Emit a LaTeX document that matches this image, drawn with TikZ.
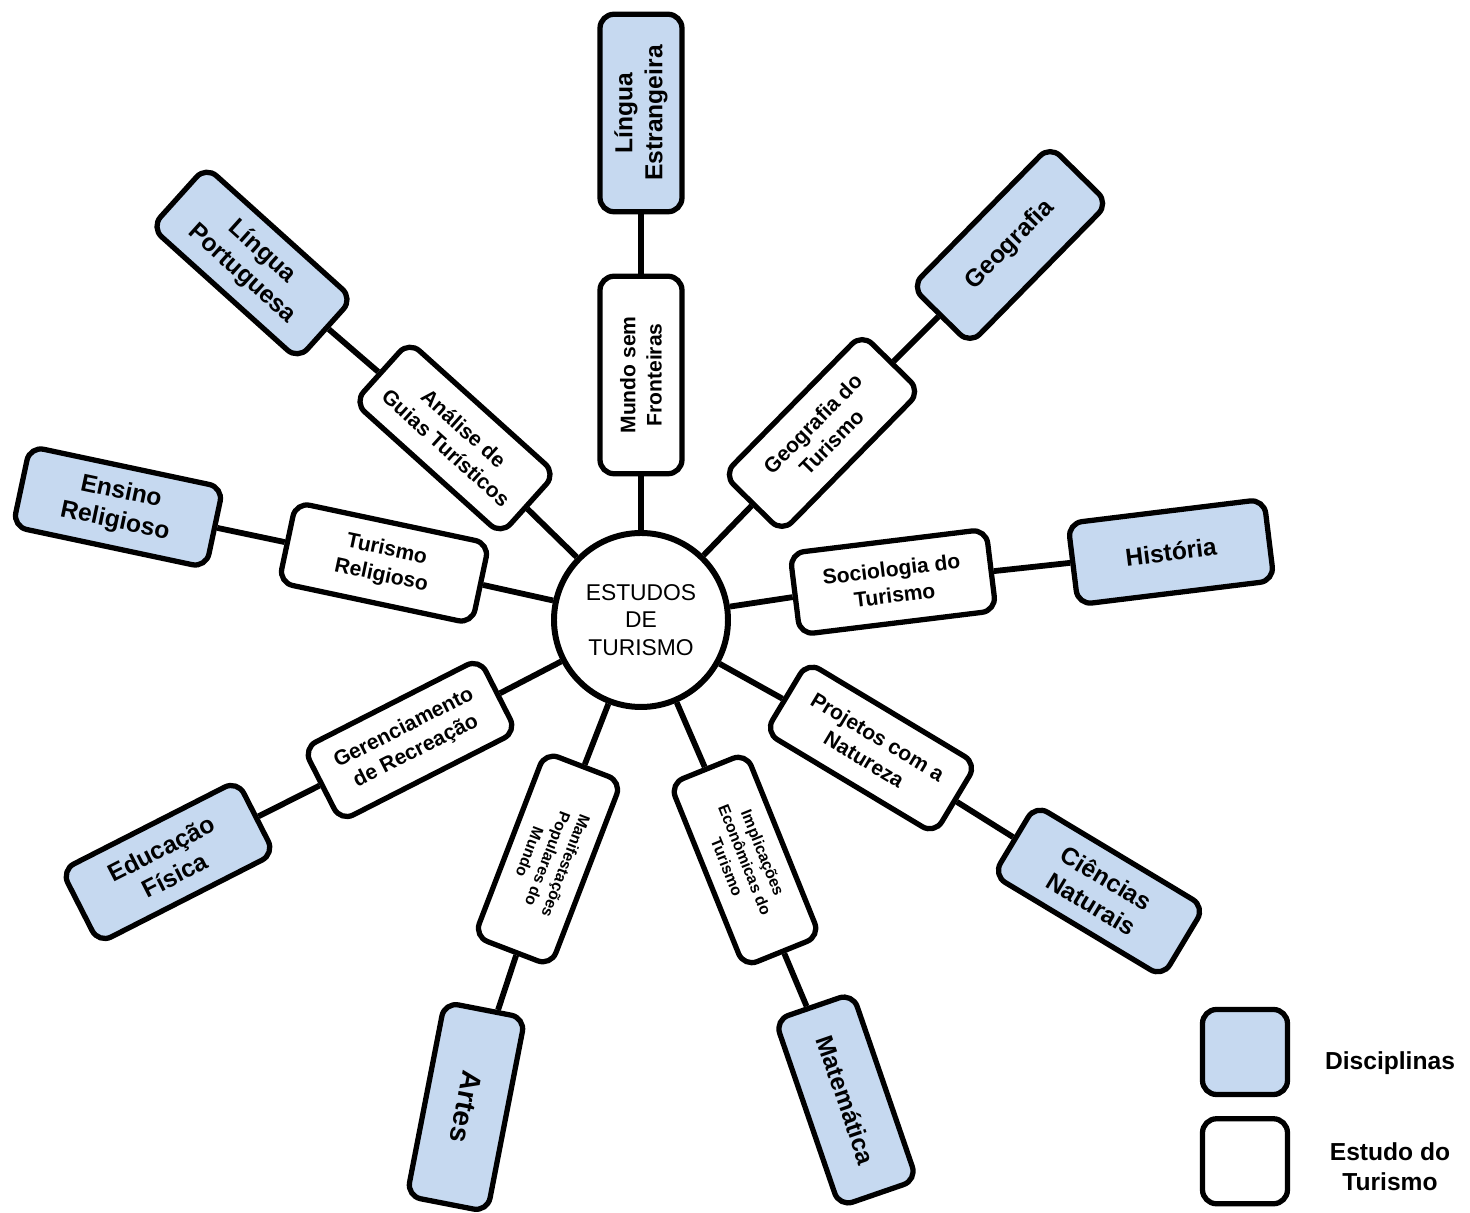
\documentclass[tikz,border=0pt]{standalone}
\usepackage{fontspec}
\setmainfont{Liberation Sans}
\usetikzlibrary{positioning}
\definecolor{discblue}{RGB}{198,217,240}

\tikzset{
  estudo/.style={draw, line width=3pt, rounded corners=8pt, fill=white,
    minimum width=3.95cm, minimum height=1.64cm, inner sep=2pt, align=center,
    font=\bfseries\fontsize{12}{15}\selectfont},
  disciplina/.style={estudo, fill=discblue, font=\bfseries\fontsize{14}{17}\selectfont},
  pequeno/.style={font=\bfseries\fontsize{9}{11}\selectfont},
  ligacao/.style={line width=3.3pt}
}

\begin{document}
\begin{tikzpicture}
    \useasboundingbox (-12.82,-11.86) rectangle (16.58,12.4);

    % Center
    \node[draw, circle, line width=3.4pt, minimum size=3.48cm, align=center,
          font=\fontsize{13}{15.5}\selectfont] (centro) at (0,0) {ESTUDOS\\DE\\TURISMO};

    % Up
    \node[estudo, rotate=90] (mundo) at (0,4.9) {Mundo sem\\Fronteiras};
    \node[disciplina, rotate=90] (estrangeira) at (0,10.14) {Língua\\Estrangeira};

    % Upper right
    \node[estudo, rotate=45.5] (geoTur) at (3.62,3.74) {Geografia do\\Turismo};
    \node[disciplina, rotate=45.5] (geografia) at (7.38,7.5) {Geografia};

    % Right
    \node[estudo, rotate=7] (socio) at (5.04,0.76) {Sociologia do\\Turismo};
    \node[disciplina, rotate=7] (historia) at (10.6,1.36) {História};

    % Lower right
    \node[estudo, rotate=-31] (projetos) at (4.6,-2.56) {Projetos com a\\Natureza};
    \node[disciplina, rotate=-31] (ciencias) at (9.16,-5.42) {Ciências\\Naturais};

    % Down right
    \node[estudo, pequeno, rotate=-68] (implic) at (2.08,-4.8) {Implicações\\Econômicas do\\Turismo};
    \node[disciplina, rotate=-71] (matematica) at (4.1,-9.6) {Matemática};

    % Down left
    \node[estudo, pequeno, rotate=-111] (manif) at (-1.86,-4.78) {Manifestações\\Populares do\\Mundo};
    \node[disciplina, rotate=-101, font=\bfseries\fontsize{16}{18}\selectfont] (artes) at (-3.5,-9.74) {Artes};

    % Lower left
    \node[estudo, rotate=27] (gerenc) at (-4.62,-2.4) {Gerenciamento\\de Recreação};
    \node[disciplina, rotate=27] (edfisica) at (-9.46,-4.84) {Educação\\Física};

    % Left
    \node[estudo, rotate=-12] (turRel) at (-5.14,1.14) {Turismo\\Religioso};
    \node[disciplina, rotate=-12] (ensRel) at (-10.46,2.26) {Ensino\\Religioso};

    % Upper left
    \node[estudo, rotate=-42] (analise) at (-3.72,3.64) {Análise de\\Guias Turísticos};
    \node[disciplina, rotate=-42] (portuguesa) at (-7.78,7.14) {Língua\\Portuguesa};

    % Spokes
    \foreach \e/\d in {mundo/estrangeira, geoTur/geografia, socio/historia,
                       projetos/ciencias, implic/matematica, manif/artes,
                       gerenc/edfisica, turRel/ensRel, analise/portuguesa}{
      \draw[ligacao] (centro) -- (\e);
      \draw[ligacao] (\e) -- (\d);
    }

    % Legend
    \node[disciplina, minimum width=1.7cm, minimum height=1.7cm] (legDisc) at (12.08,-8.64) {};
    \node[estudo, minimum width=1.7cm, minimum height=1.7cm, below=0.38cm of legDisc] (legEst) {};
    \node[font=\bfseries\fontsize{14}{17}\selectfont] (txtDisc) at (14.98,-8.86) {Disciplinas};
    \node[font=\bfseries\fontsize{14}{17}\selectfont, align=center] (txtEst) at (14.98,-10.94) {Estudo do\\Turismo};
\end{tikzpicture}
\end{document}
